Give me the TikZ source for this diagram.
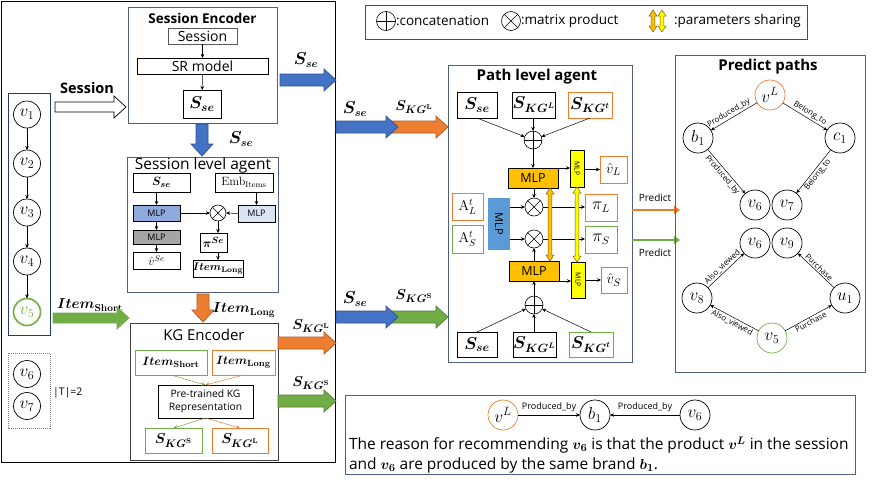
\documentclass[tikz,border=0pt]{standalone}
\usepackage{amsmath}
\usepackage{bm}
\usepackage[no-math]{fontspec}
\setmainfont{Open Sans}
\usetikzlibrary{arrows.meta}
\definecolor{cOr}{HTML}{ED7D31}
\definecolor{cGr}{HTML}{70AD47}
\definecolor{cBl}{HTML}{4472C4}
\definecolor{cBlD}{HTML}{2F528F}
\definecolor{cOrD}{HTML}{AE5A21}
\definecolor{cGrD}{HTML}{507E32}
\definecolor{cFrame}{HTML}{4F5F7F}
\definecolor{cMlpO}{HTML}{FFC000}
\definecolor{cYel}{HTML}{FFFF00}
\definecolor{cMlpB}{HTML}{5B9BD5}
\definecolor{cSB}{HTML}{8FAADC}
\definecolor{cLB}{HTML}{DAE3F3}
\definecolor{cGray}{HTML}{A5A5A5}
\definecolor{cBrown}{HTML}{7F6000}
\newcommand{\HFat}[6]{\filldraw[fill=#4,draw=#5,line width=0.7pt] (#1,{#3-#6}) -- ({#2-12},{#3-#6}) -- ({#2-12},{#3-11}) -- (#2,#3) -- ({#2-12},{#3+11}) -- ({#2-12},{#3+#6}) -- (#1,{#3+#6}) -- cycle;}
\newcommand{\VFat}[5]{\filldraw[fill=#4,draw=#5,line width=0.7pt] ({#1-6},#2) -- ({#1-6},{#3-12}) -- ({#1-11},{#3-12}) -- (#1,#3) -- ({#1+11},{#3-12}) -- ({#1+6},{#3-12}) -- ({#1+6},#2) -- cycle;}
\newcommand{\DShare}[5]{\filldraw[fill=#4,draw=#5,line width=0.5pt] (#1,#2) -- ({#1+4},{#2+6}) -- ({#1+1.8},{#2+6}) -- ({#1+1.8},{#3-6}) -- ({#1+4},{#3-6}) -- (#1,#3) -- ({#1-4},{#3-6}) -- ({#1-1.8},{#3-6}) -- ({#1-1.8},{#2+6}) -- ({#1-4},{#2+6}) -- cycle;}
\begin{document}
\begin{tikzpicture}[x=1pt,y=-1pt,
  every node/.style={inner sep=0pt, outer sep=0pt},
  fs/.style={font=\fontsize{#1}{#1}\selectfont},
  bfs/.style={font=\bfseries\fontsize{#1}{#1}\selectfont},
  arr/.style={-{Stealth[length=4pt,width=3.5pt]}, line width=0.5pt},
  bx/.style={draw, line width=0.6pt},
  frame/.style={draw=cFrame, line width=0.9pt},
  vc/.style={circle, draw, line width=0.7pt, minimum size=#1, fs=17},
  vc/.default=30pt,
  opl/.style={circle, draw, line width=0.6pt, minimum size=#1, path picture={\draw[line width=0.6pt] (path picture bounding box.north) -- (path picture bounding box.south) (path picture bounding box.west) -- (path picture bounding box.east);}},
  otm/.style={circle, draw, line width=0.6pt, minimum size=#1, path picture={\draw[line width=0.6pt] (path picture bounding box.north west) -- (path picture bounding box.south east) (path picture bounding box.south west) -- (path picture bounding box.north east);}},
  lab/.style={fs=8, inner sep=1.5pt},
  prd/.style={-{Triangle[length=6pt,width=8pt]}, line width=2.5pt},
]
\useasboundingbox (0,0) rectangle (872,483);

% ---------------- left big frame
\draw[line width=0.7pt] (1,1) rectangle (335,462);

% ---------------- Session encoder
\node[frame, minimum width=149pt, minimum height=116pt] (SE) at (202.5,65) {};
\node[bfs=13.5] (SEt) at (202.5,18) {Session Encoder};
\node[bx, draw=black!65, minimum width=69pt, minimum height=16pt, fs=14] (sess) at (202.5,36) {Session};
\node[bx, minimum width=131pt, minimum height=16pt, fs=14] (srm) at (202.5,66) {SR model};
\node[bx, minimum width=38pt, minimum height=28pt, fs=17] (sse) at (202,104) {$\bm{S_{se}}$};
\draw[arr] (sess) -- (srm);
\draw[arr] (srm) -- (sse);

% ---------------- session items column
\draw[frame, draw=cBlD!70!black] (8,93) rectangle (50,335);
\node[vc=27pt] (v1) at (27,114.5) {$v_1$};
\node[vc=27pt] (v2) at (27,163.5) {$v_2$};
\node[vc=27pt] (v3) at (27,212.5) {$v_3$};
\node[vc=27pt] (v4) at (27,261.5) {$v_4$};
\node[vc=27pt, draw=cGr, line width=1.6pt, text=cGr] (v5) at (27,312) {$v_5$};
\draw[arr] (v1) -- (v2);
\draw[arr] (v2) -- (v3);
\draw[arr] (v3) -- (v4);
\draw[arr] (v4) -- (v5);
\draw[gray, line width=0.6pt, dash pattern=on 1pt off 1pt] (8,353) rectangle (50,428);
\node[vc=27pt] (v6l) at (27,374) {$v_6$};
\node[vc=27pt] (v7l) at (27,406) {$v_7$};
\node[fs=10.5, anchor=west] (T) at (53,393) {|T|=2};

% Session hollow arrow
\node[bfs=14.5] (sesslab) at (87,88) {Session};
\HFat{55}{126}{107}{white}{black}{5}
% Item short green arrow
\node[fs=14] (islab) at (90,305) {$\bm{Item}_{\mathbf{Short}}$};
\HFat{53}{129}{318}{cGr}{cGr}{5}

% ---------------- down arrow S_se
\VFat{202}{124}{156}{cBl}{cBlD}
\node[fs=16] (sselab) at (241,139) {$\bm{S_{se}}$};

% ---------------- Session level agent
\node[frame, minimum width=151pt, minimum height=135pt] (SLA) at (202.5,224.5) {};
\node[fs=15.5] (SLAt) at (203,165) {Session level agent};
\node[bx, minimum width=57pt, minimum height=19pt, fs=13] (a1) at (161.5,182.5) {$\bm{S_{se}}$};
\node[bx, minimum width=58pt, minimum height=19pt, fs=12] (emb) at (244,182.5) {$\mathrm{Emb}_{\mathrm{Items}}$};
\node[bx, fill=cSB, minimum width=47pt, minimum height=16pt, fs=9] (m1) at (156.5,213) {MLP};
\node[otm=16pt] (ox) at (218,213) {};
\node[bx, fill=cLB, minimum width=37pt, minimum height=17pt, fs=9] (m2) at (256.5,213.5) {MLP};
\node[bx, fill=cGray, minimum width=47pt, minimum height=14pt, fs=9] (m3) at (156.5,237) {MLP};
\node[bx, minimum width=27pt, minimum height=19pt, fs=13] (pi) at (213.5,242.5) {$\bm{\pi^{Se}}$};
\node[bx, minimum width=47pt, minimum height=17pt, fs=12] (vh) at (156.5,260.5) {$\hat{v}^{Se}$};
\node[bx, minimum width=50pt, minimum height=17pt, fs=11] (il) at (218,268.5) {$\bm{Item}_{\mathbf{Long}}$};
\draw[arr] (m1.north |- a1.south) -- (m1.north);
\draw[arr] (m1) -- (m3);
\draw[arr] (m3) -- (vh);
\draw[arr] (m2.north |- emb.south) -- (m2.north);
\draw[arr] (m1.east) -- (ox.west);
\draw[arr] (m2.west) -- (ox.east);
\draw[arr] (ox.south) -- (ox.south |- pi.north);
\draw[arr] (ox.south |- pi.south) -- (ox.south |- il.north);

% ---------------- orange down arrow Item_Long
\VFat{203}{294}{322}{cOr}{cOrD}
\node[fs=14] (illab) at (244,310) {$\bm{Item}_{\mathbf{Long}}$};

% ---------------- KG encoder
\node[draw=black!75, line width=0.8pt, minimum width=148pt, minimum height=137pt] (KGE) at (204,391.5) {};
\node[fs=15] (KGEt) at (204,335) {KG Encoder};
\node[bx, draw=cGr, minimum width=72pt, minimum height=25pt, fs=13] (is) at (171,362.5) {$\bm{Item}_{\mathbf{Short}}$};
\node[bx, draw=cOr, minimum width=63pt, minimum height=25pt, fs=13] (ilk) at (243.5,362.5) {$\bm{Item}_{\mathbf{Long}}$};
\node[bx, minimum width=95pt, minimum height=33pt, align=center, font=\fontsize{10.3}{13.5}\selectfont] (pre) at (205.5,401.5) {Pre-trained KG\\Representation};
\node[bx, draw=cGr, minimum width=57pt, minimum height=25pt, fs=15] (ks) at (173.5,440.5) {$\bm{S_{KG^{\mathrm{S}}}}$};
\node[bx, draw=cOr, minimum width=56pt, minimum height=25pt, fs=15] (kl) at (240,440.5) {$\bm{S_{KG^{\mathrm{L}}}}$};
\draw[arr, cGr] (is.south) -- (pre.north);
\draw[arr, cOr] (ilk.south) -- (pre.north);
\draw[arr, cGr] (pre.south) -- (ks.north);
\draw[arr, cOr] (pre.south) -- (kl.north);

% ---------------- arrows out of left frame
\HFat{280}{336}{80}{cBl}{cBlD}{6}
\node[fs=16] (l1) at (306,60) {$\bm{S_{se}}$};
\HFat{278}{336}{343}{cOr}{cOrD}{6}
\node[fs=15] (l2) at (311,326) {$\bm{S_{KG^{\mathrm{L}}}}$};
\HFat{278}{336}{401}{cGr}{cGrD}{6}
\node[fs=15] (l3) at (311,383) {$\bm{S_{KG^{\mathrm{S}}}}$};

% mid arrows into path agent
\HFat{386}{448}{127}{cOr}{cOrD}{6}
\HFat{336}{398}{127}{cBl}{cBlD}{6}
\node[fs=16] (l4) at (355,109) {$\bm{S_{se}}$};
\node[fs=15] (l5) at (414,107) {$\bm{S_{KG^{\mathrm{L}}}}$};
\HFat{386}{448}{317}{cGr}{cGrD}{6}
\HFat{336}{398}{317}{cBl}{cBlD}{6}
\node[fs=16] (l6) at (355,299) {$\bm{S_{se}}$};
\node[fs=15] (l7) at (414,296) {$\bm{S_{KG^{\mathrm{S}}}}$};

% ---------------- legend
\node[draw=black!70, line width=0.7pt, minimum width=442pt, minimum height=34pt] (leg) at (586,22) {};
\node[opl=19pt] (lgp) at (386,21) {};
\node[fs=13.5, anchor=west] (lgpt) at (396,21) {:concatenation};
\node[otm=19pt] (lgx) at (511,21) {};
\node[fs=13.5, anchor=west] (lgxt) at (521,21) {:matrix product};
\DShare{653}{10}{32}{cMlpO}{cBrown}
\DShare{662}{10}{32}{cYel}{cBrown}
\node[fs=13.5, anchor=west] (lgst) at (674,21) {:parameters sharing};

% ---------------- Path level agent
\node[frame, minimum width=184pt, minimum height=297pt] (PLA) at (540,213.5) {};
\node[bfs=15] (PLAt) at (537,77) {Path level agent};
\node[bx, minimum width=40pt, minimum height=26pt, fs=17] (pSse) at (477,105) {$\bm{S_{se}}$};
\node[bx, minimum width=42pt, minimum height=26pt, fs=17] (pKL) at (534,105) {$\bm{S_{KG^{L}}}$};
\node[bx, draw=cOr, minimum width=44pt, minimum height=26pt, fs=17] (pKt) at (590,105) {$\bm{S_{KG^{t}}}$};
\node[opl=18pt] (op1) at (533,140) {};
\node[bx, fill=cMlpO, minimum width=50pt, minimum height=20pt, fs=12.5] (mlp1) at (533,178) {MLP};
\node[bx, fill=cYel, minimum width=14pt, minimum height=37pt] (ym1) at (577,168.5) {};
\node[fs=7, rotate=-90] (ym1t) at (577,168.5) {MLP};
\node[bx, draw=cOr, minimum width=27pt, minimum height=27pt, fs=15] (vL) at (613.5,169.5) {$\hat{v}_L$};
\node[bx, draw=cOr, minimum width=31pt, minimum height=27pt, fs=14] (AL) at (467.5,206.5) {$\mathrm{A}_L^t$};
\node[bx, draw=cGr, minimum width=31pt, minimum height=28pt, fs=14] (AS) at (467.5,239) {$\mathrm{A}_S^t$};
\node[fill=cMlpB, minimum width=22pt, minimum height=52pt] (bm) at (499,224) {};
\node[fs=11, rotate=-90] (bmt) at (499,224) {MLP};
\node[otm=18pt] (ot1) at (534,207) {};
\node[otm=18pt] (ot2) at (534,239) {};
\node[bx, draw=cOr, minimum width=32pt, minimum height=27pt, fs=16] (piL) at (601,207.5) {$\pi_L$};
\node[bx, draw=cGr, minimum width=32pt, minimum height=27pt, fs=16] (piS) at (601,239.5) {$\pi_S$};
\node[bx, fill=cMlpO, minimum width=50pt, minimum height=20pt, fs=12.5] (mlp2) at (534,271) {MLP};
\node[bx, fill=cYel, minimum width=14pt, minimum height=36pt] (ym2) at (578,280) {};
\node[fs=7, rotate=-90] (ym2t) at (578,280) {MLP};
\node[bx, draw=cGr, minimum width=26pt, minimum height=26pt, fs=15] (vS) at (614,280) {$\hat{v}_S$};
\node[opl=18pt] (op2) at (534,305) {};
\node[bx, minimum width=40pt, minimum height=25pt, fs=17] (bSse) at (477,344.5) {$\bm{S_{se}}$};
\node[bx, minimum width=43pt, minimum height=25pt, fs=17] (bKL) at (534.5,344.5) {$\bm{S_{KG^{L}}}$};
\node[bx, draw=cGr, minimum width=44pt, minimum height=25pt, fs=17] (bKt) at (591,344.5) {$\bm{S_{KG^{t}}}$};

\draw[arr] (pSse.south) -- (op1);
\draw[arr] (pKL.south -| op1) -- (op1.north);
\draw[arr] (pKt.south) -- (op1);
\draw[arr] (op1.south) -- (op1.south |- mlp1.north);
\draw[arr] (ot1.north |- mlp1.south) -- (ot1.north);
\draw[arr] (mlp1.north east) -- (ym1.west |- mlp1.north east);
\draw[arr] (ym1.east |- vL) -- (vL.west);
\draw[arr] (bm.east |- ot1) -- (ot1.west);
\draw[arr] (bm.east |- ot2) -- (ot2.west);
\draw[arr] (ot1.east) -- (piL.west |- ot1);
\draw[arr] (ot2.east) -- (piS.west |- ot2);
\draw[arr] (ot2.south |- mlp2.north) -- (ot2.south);
\draw[arr] (op2.north) -- (op2.north |- mlp2.south);
\draw[arr] (mlp2.south east) -- (ym2.west |- mlp2.south east);
\draw[arr] (ym2.east |- vS) -- (vS.west);
\draw[arr] (bSse.north) -- (op2);
\draw[arr] (bKL.north -| op2) -- (op2.south);
\draw[arr] (bKt.north) -- (op2);
\DShare{550}{188}{261}{cMlpO}{cBrown}
\DShare{577}{187}{262}{cYel}{cBrown}

% predict arrows
\coordinate (po1) at (680,210);
\coordinate (pg1) at (680,240);
\draw[prd, cOr] (PLA.east |- po1) -- (po1);
\draw[prd, cGr] (PLA.east |- pg1) -- (pg1);
\node[fs=10] (pr1) at (655,198) {Predict};
\node[fs=10] (pr2) at (655,253) {Predict};

% ---------------- Predict paths
\node[frame, minimum width=190pt, minimum height=317pt] (PP) at (770,213.5) {};
\node[bfs=15] (PPt) at (768,67) {Predict paths};
\node[vc, draw=cOr] (gvL) at (770,95) {$v^L$};
\node[vc] (gb1) at (698,138) {$b_1$};
\node[vc] (gc1) at (840,138) {$c_1$};
\node[vc] (gv6) at (755,205) {$v_6$};
\node[vc] (gv7) at (787,205) {$v_7$};
\node[vc] (hv6) at (755,243) {$v_6$};
\node[vc] (hv9) at (787,243) {$v_9$};
\node[vc] (hv8) at (697,298) {$v_8$};
\node[vc] (hu1) at (845,298) {$u_1$};
\node[vc, draw=cGr] (hv5) at (772,338) {$v_5$};
\draw[arr] (gvL) -- node[lab, sloped, above, pos=0.55] {Produced\_by} (gb1);
\draw[arr] (gvL) -- node[lab, sloped, above, pos=0.55] {Belong\_to} (gc1);
\draw[arr] (gb1) -- node[lab, sloped, below] {Produced\_by} (gv6);
\draw[arr] (gc1) -- node[lab, sloped, below] {Belong\_to} (gv7);
\draw[arr] (hv8) -- node[lab, sloped, above] {Also\_viewed} (hv6);
\draw[arr] (hu1) -- node[lab, sloped, above] {Purchase} (hv9);
\draw[arr] (hv5) -- node[lab, sloped, below] {Also\_viewed} (hv8);
\draw[arr] (hv5) -- node[lab, sloped, below] {Purchase} (hu1);

% ---------------- explanation
\node[frame, minimum width=510pt, minimum height=79pt] (EX) at (600,434.5) {};
\node[vc, draw=cOr] (evL) at (503,415) {$v^L$};
\node[vc] (eb1) at (595,415) {$b_1$};
\node[vc] (ev6) at (695,415) {$v_6$};
\draw[arr] (evL) -- node[lab, fs=9, above=2pt] {Produced\_by} (eb1);
\draw[arr] (ev6) -- node[lab, fs=9, above=2pt] {Produced\_by} (eb1);
\node[fs=15.5, anchor=west] (ex1) at (349,445) {The reason for recommending $\bm{v_6}$ is that the product $\bm{v^L}$ in the session};
\node[fs=15.5, anchor=west] (ex2) at (349,465) {and $\bm{v_6}$ are produced by the same brand $\bm{b_1}$.};
\end{tikzpicture}
\end{document}
